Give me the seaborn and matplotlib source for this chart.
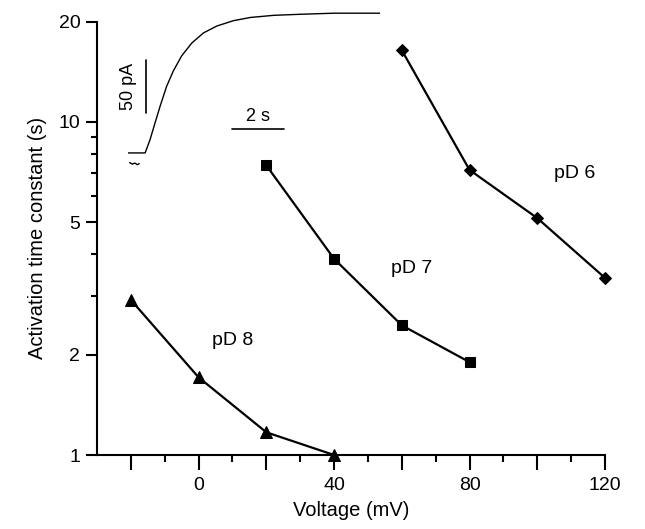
import numpy as np
import pandas as pd
import matplotlib
matplotlib.use("Agg")
import matplotlib.pyplot as plt
import seaborn as sns

# activation time constants
voltage_pd8 = [-20, 0, 20, 40]
tau_pd8 = [2.92, 1.71, 1.17, 1.0]
voltage_pd7 = [20, 40, 60, 80]
tau_pd7 = [7.4, 3.88, 2.45, 1.9]
voltage_pd6 = [60, 80, 100, 120]
tau_pd6 = [16.4, 7.17, 5.14, 3.4]

# inset current trace (time in s, current in pA)
trace_t = [0, 0.65, 0.84, 1.03, 1.23, 1.48, 1.74, 2.06, 2.45, 2.90, 3.42,
           4.06, 4.71, 5.61, 6.65, 7.94, 9.7]
trace_i = [0, 0, 12.5, 28, 44, 62.5, 77, 91, 103, 112.5, 119,
           124, 127, 129, 130, 131, 131]
artifact_t = [0.05, 0.15, 0.25, 0.35, 0.42]
artifact_i = [-9, -10.5, -9.5, -11, -10]

df = pd.concat([
    pd.DataFrame({"voltage": voltage_pd8, "tau": tau_pd8, "series": "pD 8"}),
    pd.DataFrame({"voltage": voltage_pd7, "tau": tau_pd7, "series": "pD 7"}),
    pd.DataFrame({"voltage": voltage_pd6, "tau": tau_pd6, "series": "pD 6"}),
])

sns.set_style("ticks")
plt.rcParams["font.family"] = ["Liberation Sans", "DejaVu Sans"]
plt.rcParams["text.color"] = "black"
plt.rcParams["axes.labelcolor"] = "black"
plt.rcParams["xtick.color"] = "black"
plt.rcParams["ytick.color"] = "black"

fig = plt.figure(figsize=(6.45, 5.29), dpi=100)
ax = fig.add_axes([97 / 645, 1 - 455 / 529, (605 - 97) / 645, (455 - 21.5) / 529])

markers = {"pD 8": ("^", 9), "pD 7": ("s", 7.5), "pD 6": ("D", 6.5)}
for name, (mk, ms) in markers.items():
    sub = df[df["series"] == name]
    sns.lineplot(data=sub, x="voltage", y="tau", ax=ax, color="black",
                 marker=mk, markersize=ms, markeredgecolor="black",
                 linewidth=1.6, clip_on=False, legend=False)

ax.set_yscale("log")
ax.set_ylim(1, 20)
ax.set_xlim(-30, 120)
ax.set_yticks([1, 2, 5, 10, 20])
ax.set_yticklabels(["1", "2", "5", "10", "20"])
ax.set_yticks([3, 4, 6, 7, 8, 9], minor=True)
ax.set_yticklabels([], minor=True)
ax.set_xticks(range(-20, 121, 20))
ax.set_xticklabels(["", "0", "", "40", "", "80", "", "120"])
ax.set_xticks(range(-10, 120, 20), minor=True)

for s in ["top", "right"]:
    ax.spines[s].set_visible(False)
for s in ["left", "bottom"]:
    ax.spines[s].set_linewidth(1.5)
    ax.spines[s].set_color("black")

ax.tick_params(axis="x", which="major", length=11, width=1.5, labelsize=14, pad=5)
ax.tick_params(axis="x", which="minor", length=5, width=1.5)
ax.tick_params(axis="y", which="major", length=8, width=1.5, labelsize=14, pad=4)
ax.tick_params(axis="y", which="minor", length=4, width=1.5)

ax.set_xlabel("Voltage (mV)", fontsize=14.5, labelpad=5)
ax.set_ylabel("Activation time constant (s)", fontsize=14.5, labelpad=8)

ax.text(10, 2.21, "pD 8", fontsize=14, ha="center", va="center")
ax.text(63, 3.62, "pD 7", fontsize=14, ha="center", va="center")
ax.text(111, 7.0, "pD 6", fontsize=14, ha="center", va="center")

# inset: example current trace with scale bars
ins = fig.add_axes([128.3 / 645, 1 - 170 / 529, (390 - 128.3) / 645, 160 / 529])
ins.set_xlim(0, 10.1)
ins.set_ylim(-16, 134)
ins.axis("off")
ins.plot(trace_t, trace_i, color="black", linewidth=1.0)
ins.plot(artifact_t, artifact_i, color="black", linewidth=1.0)
ins.plot([0.7, 0.7], [37.5, 87.5], color="black", linewidth=1.2)
ins.plot([4.0, 6.0], [22, 22], color="black", linewidth=1.2)
ins.text(0.0, 62.5, "50 pA", rotation=90, fontsize=13, ha="center", va="center")
ins.text(5.0, 34, "2 s", fontsize=13, ha="center", va="center")

fig.savefig("out.png", dpi=100)
